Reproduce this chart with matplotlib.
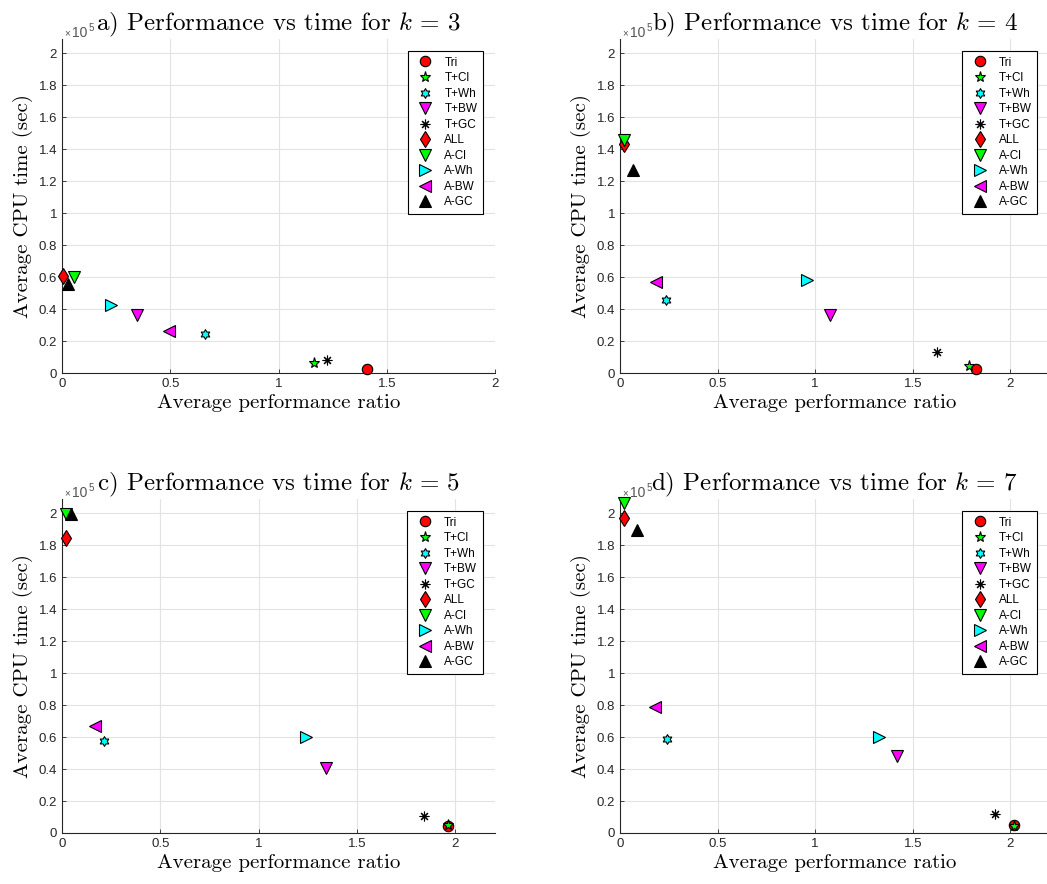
import numpy as np
import matplotlib
matplotlib.use('Agg')
import matplotlib.pyplot as plt
from matplotlib.path import Path

plt.rcParams['mathtext.fontset'] = 'cm'
plt.rcParams['font.family'] = ['Liberation Sans', 'DejaVu Sans']

# methods (legend order)
methods = ['Tri', 'T+Cl', 'T+Wh', 'T+BW', 'T+GC', 'ALL', 'A-Cl', 'A-Wh', 'A-BW', 'A-GC']

# average performance ratio / average CPU time (sec) for each k
ratio_k3 = [1.408, 1.163, 0.662, 0.346, 1.225, 0.003, 0.057, 0.225, 0.492, 0.028]
time_k3 = [2500, 6250, 24600, 36500, 7900, 60800, 59800, 42500, 26000, 55800]

ratio_k4 = [1.822, 1.786, 0.236, 1.077, 1.624, 0.020, 0.020, 0.957, 0.185, 0.065]
time_k4 = [2500, 4600, 45800, 36000, 13300, 143300, 145800, 57900, 56700, 126700]

ratio_k5 = [1.963, 1.963, 0.212, 1.341, 1.841, 0.022, 0.019, 1.239, 0.169, 0.047]
time_k5 = [4600, 5000, 57700, 40600, 10400, 184800, 199600, 60000, 66700, 199600]

ratio_k7 = [2.017, 2.017, 0.239, 1.419, 1.923, 0.020, 0.022, 1.328, 0.178, 0.085]
time_k7 = [5200, 4600, 58700, 48300, 12100, 197300, 206500, 60000, 78700, 189800]

# hexagram marker (MATLAB 'h')
ang = np.pi / 2 + np.arange(12) * np.pi / 6
rad = np.where(np.arange(12) % 2 == 0, 1.0, 1 / np.sqrt(3))
hex_verts = np.column_stack([rad * np.cos(ang), rad * np.sin(ang)])
hexagram = Path(np.vstack([hex_verts, hex_verts[:1]]), closed=True)

styles = [
    dict(marker='o', color='#ff0000', ms=7.5),
    dict(marker='*', color='#00ff00', ms=8),
    dict(marker=hexagram, color='#00ffff', ms=7),
    dict(marker='v', color='#ff00ff', ms=8.5),
    dict(marker=(8, 2, 0), color='k', ms=7),
    dict(marker='d', color='#ff0000', ms=8.5),
    dict(marker='v', color='#00ff00', ms=8.5),
    dict(marker='>', color='#00ffff', ms=8.5),
    dict(marker='<', color='#ff00ff', ms=8.5),
    dict(marker='^', color='k', ms=8.5),
]

panels = [
    ('a', 3, ratio_k3, time_k3, 2.0, [0.0592, 0.578, 0.4136, 0.378]),
    ('b', 4, ratio_k4, time_k4, 2.2, [0.5922, 0.578, 0.4100, 0.378]),
    ('c', 5, ratio_k5, time_k5, 2.2, [0.0592, 0.0577, 0.4133, 0.378]),
    ('d', 7, ratio_k7, time_k7, 2.2, [0.5922, 0.0577, 0.4100, 0.378]),
]

fig = plt.figure(figsize=(10.47, 8.84), dpi=100)

for tag, k, xr, yt, xmax, pos in panels:
    ax = fig.add_axes(pos)
    for i, name in enumerate(methods):
        st = styles[i]
        ax.plot(xr[i], yt[i] / 1e5, linestyle='none', marker=st['marker'],
                markersize=st['ms'], markerfacecolor=st['color'],
                markeredgecolor='k', color='k', markeredgewidth=0.8,
                label=name, zorder=3, clip_on=False)
    ax.set_xlim(0, xmax)
    ax.set_ylim(0, 2.09)
    ax.set_xticks([0, 0.5, 1, 1.5, 2])
    ax.set_xticklabels(['0', '0.5', '1', '1.5', '2'])
    ax.set_yticks(np.arange(0, 2.01, 0.2))
    ax.set_yticklabels(['0', '0.2', '0.4', '0.6', '0.8', '1', '1.2', '1.4', '1.6', '1.8', '2'])
    ax.grid(True, color='#e3e3e3', linewidth=0.8)
    ax.set_axisbelow(True)
    for s in ['top', 'right']:
        ax.spines[s].set_visible(False)
    for s in ['left', 'bottom']:
        ax.spines[s].set_color('#262626')
        ax.spines[s].set_linewidth(0.8)
    ax.tick_params(direction='in', length=3, width=0.6, colors='#262626',
                   labelsize=9.5, labelcolor='#262626')
    ax.set_xlabel('Average performance ratio', fontfamily='cmr10', fontsize=15, labelpad=3)
    ax.set_ylabel('Average CPU time (sec)', fontfamily='cmr10', fontsize=15, labelpad=4)
    ax.set_title(tag + r') Performance vs time for $k\,=\,%d$' % k, fontfamily='cmr10',
                 fontsize=18, pad=6)
    # MATLAB style exponent label
    ax.annotate('\u00d7', xy=(0.0, 1.0), xycoords='axes fraction', xytext=(2, 3),
                textcoords='offset pixels', fontsize=7, color='#555555',
                ha='left', va='baseline')
    ax.annotate('10', xy=(0.0, 1.0), xycoords='axes fraction', xytext=(10, 2),
                textcoords='offset pixels', fontsize=10, color='#555555',
                ha='left', va='baseline')
    ax.annotate('5', xy=(0.0, 1.0), xycoords='axes fraction', xytext=(27, 8),
                textcoords='offset pixels', fontsize=7, color='#555555',
                ha='left', va='baseline')
    leg = ax.legend(loc='upper right', fontsize=8.5, fancybox=False, framealpha=1,
                    edgecolor='k', labelspacing=0.3, handlelength=2.0,
                    handletextpad=0.6, borderpad=0.5, borderaxespad=1.0,
                    numpoints=1)
    leg.get_frame().set_linewidth(0.8)

fig.savefig('out.png', dpi=100)
